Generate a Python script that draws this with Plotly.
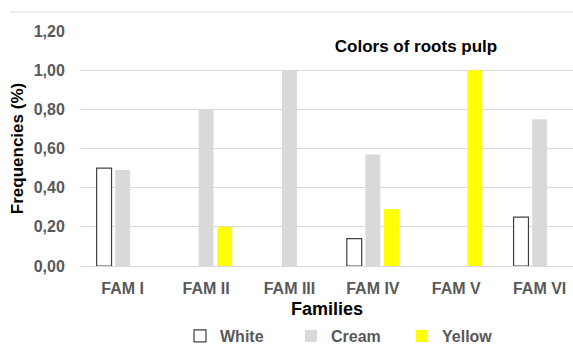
import plotly.graph_objects as go

families = ["FAM I", "FAM II", "FAM III", "FAM IV", "FAM V", "FAM VI"]
white = [0.50, 0, 0, 0.14, 0, 0.25]
cream = [0.49, 0.80, 1.00, 0.57, 0, 0.75]
yellow = [0, 0.20, 0, 0.29, 1.00, 0]
y_ticks = [0, 0.2, 0.4, 0.6, 0.8, 1.0, 1.2]
y_tick_text = ["0,00", "0,20", "0,40", "0,60", "0,80", "1,00", "1,20"]

FONT = "Liberation Sans, Arial, sans-serif"
GRAY = "#595959"

fig = go.Figure()
fig.add_trace(go.Bar(
    name="<b>White</b>", x=families, y=white,
    marker=dict(color="white",
                line=dict(color="#404040", width=[1.2 if v > 0 else 0 for v in white])),
))
fig.add_trace(go.Bar(
    name="<b>Cream</b>", x=families, y=cream,
    marker=dict(color="#D9D9D9", line=dict(width=0)),
))
fig.add_trace(go.Bar(
    name="<b>Yellow</b>", x=families, y=yellow,
    marker=dict(color="#FFFF00", line=dict(width=0)),
))

fig.update_layout(
    width=573, height=345,
    margin=dict(l=81, r=0, t=31, b=79, autoexpand=False),
    paper_bgcolor="white", plot_bgcolor="white",
    barmode="group", bargap=0.33, bargroupgap=0.2,
    font=dict(family=FONT, size=16, color=GRAY),
    title=dict(text="<b>Colors of roots pulp</b>", x=416/573, xanchor="center",
               y=1-46/345, yanchor="middle", xref="container", yref="container",
               font=dict(family=FONT, size=17, color="black")),
    showlegend=True,
    legend=dict(orientation="h", x=0.5+60/573, xanchor="center", xref="container",
                y=1-336/345, yanchor="middle", yref="container",
                font=dict(family=FONT, size=16, color=GRAY),
                itemwidth=30, entrywidth=66, traceorder="normal"),
    shapes=[dict(type="line", xref="paper", yref="paper",
                 x0=-71/492, x1=1, y0=1+19/234.7, y1=1+19/234.7,
                 line=dict(color="#D9D9D9", width=1))],
)

fig.update_xaxes(
    type="category", range=[-0.5, 5.4],
    tickfont=dict(family=FONT, size=16, color=GRAY),
    tickprefix="<b>", ticksuffix="</b>",
    showgrid=False, showline=False, zeroline=False,
    ticks="outside", ticklen=8, tickcolor="white",
    title=dict(text="<b>Families</b>", standoff=8,
               font=dict(family=FONT, size=18, color="black")),
)
fig.update_yaxes(
    range=[0, 1.2], tickvals=y_ticks, ticktext=["<b>%s</b>" % t for t in y_tick_text],
    tickfont=dict(family=FONT, size=16, color=GRAY),
    showgrid=True, gridcolor="#D9D9D9", gridwidth=1,
    zeroline=True, zerolinecolor="#D9D9D9", zerolinewidth=1,
    showline=False, ticks="outside", ticklen=12, tickcolor="white",
    title=dict(text="<b>Frequencies (%)</b>", standoff=5,
               font=dict(family=FONT, size=17, color="black")),
)

fig.write_html("out.html")
